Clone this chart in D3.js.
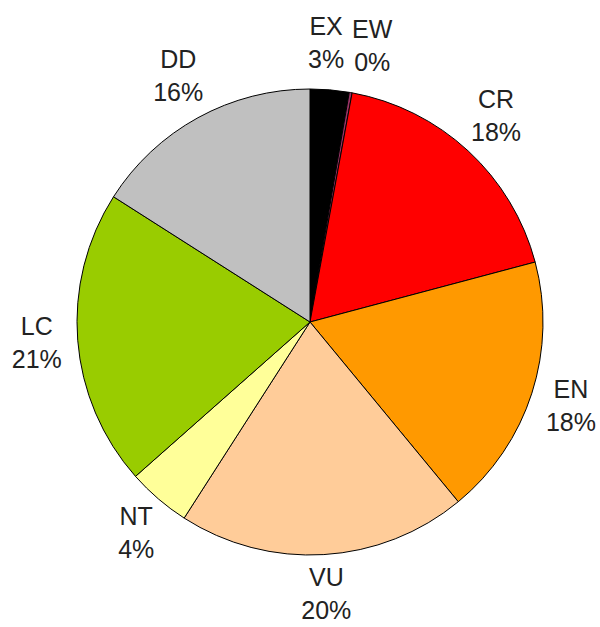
<!DOCTYPE html>
<html>
<head>
<meta charset="utf-8">
<script src="https://cdn.jsdelivr.net/npm/d3@7"></script>
<style>
  body { margin: 0; background: #fff; }
</style>
</head>
<body>
<div id="chart"></div>
<script>
// IUCN categories, clockwise from 12 o'clock
const categories = ["EX", "EW", "CR", "EN", "VU", "NT", "LC", "DD"];
const counts = [27, 2, 180, 182, 201, 44, 206, 160];
const colors = ["#000000", "#993366", "#ff0000", "#ff9900", "#ffcc99", "#ffff99", "#99cc00", "#c0c0c0"];

pieChart = function () {
    let width = 600,
    height = 627,
    cx = 310,
    cy = 322,
    radius = 233,
    label_gap = 16;

    function chart(selection) {
        let data = categories.map((c, i) => ({ name: c, value: counts[i], color: colors[i] }));
        let total = d3.sum(data, d => d.value);

        let svg = selection.append("svg")
            .attr("width", width)
            .attr("height", height);

        let pie = d3.pie()
            .value(d => d.value)
            .sort(null);

        let arc = d3.arc()
            .innerRadius(0)
            .outerRadius(radius);

        let arcs = pie(data);

        const g = svg.append("g")
            .attr("transform", "translate(" + cx + "," + cy + ")");

        g.append("g")
            .selectAll("path")
            .data(arcs)
            .enter().append("path")
            .attr("d", arc)
            .attr("fill", d => d.data.color)
            .attr("stroke", "#000")
            .attr("stroke-width", 1);

        const labels = g.append("g")
            .selectAll("text")
            .data(arcs)
            .enter().append("text")
            .attr("text-anchor", "middle")
            .style("font-family", "Arial, 'Liberation Sans', sans-serif")
            .style("font-size", "25px")
            .style("fill", "#222");

        labels.append("tspan")
            .attr("x", 0)
            .attr("dy", -9)
            .text(d => d.data.name);

        labels.append("tspan")
            .attr("x", 0)
            .attr("dy", 33)
            .text(d => Math.round(d.data.value / total * 100) + "%");

        // place each label box just outside the pie along its mid angle
        let boxes = [];
        labels.each(function (d) {
            let a = (d.startAngle + d.endAngle) / 2;
            let w = d3.max(d3.select(this).selectAll("tspan").nodes(), n => n.getComputedTextLength());
            let hw = w / 2, hh = 30;
            let x = (radius + label_gap) * Math.sin(a) + hw * Math.sin(a);
            let y = -(radius + label_gap) * Math.cos(a) - hh * Math.cos(a);
            // keep the block inside the picture
            y = Math.min(y, height - cy - 32);
            boxes.push({ node: this, x: x, y: y, hw: hw, hh: hh });
        });

        // nudge overlapping neighbours sideways
        for (let i = 1; i < boxes.length; i++) {
            let p = boxes[i - 1], b = boxes[i];
            if (Math.abs(b.y - p.y) < p.hh + b.hh && Math.abs(b.x - p.x) < p.hw + b.hw + 8) {
                let shift = (p.hw + b.hw + 8 - (b.x - p.x)) / 2;
                p.x -= shift * 0.6;
                b.x += shift * 1.4;
            }
        }

        boxes.forEach(b => {
            d3.select(b.node).selectAll("tspan").attr("x", b.x);
            d3.select(b.node).attr("y", b.y);
        });
    }

    return chart;
}

d3.select("#chart").call(pieChart());
</script>
</body>
</html>
